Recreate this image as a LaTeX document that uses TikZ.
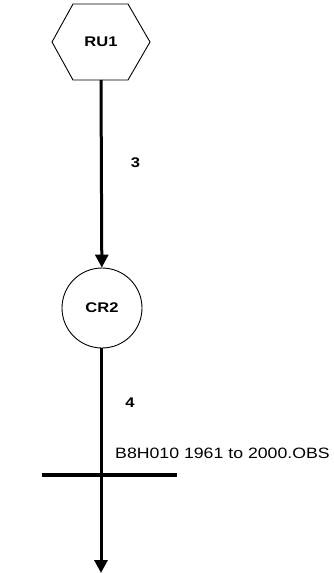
\documentclass[tikz,border=0pt]{standalone}
\usepackage{fontspec}
\setmainfont{Liberation Sans}
\newfontfamily\widefont[FakeStretch=1.18]{Liberation Sans}
\usetikzlibrary{arrows.meta}
\definecolor{netline}{RGB}{0,0,0}

\begin{document}
\begin{tikzpicture}[
  x=1pt, y=-1pt,
  >={Triangle[length=13pt,width=13pt]},
  unit/.style={font=\widefont\fontsize{14}{16}\selectfont\bfseries, inner sep=0pt},
  rch/.style={->, draw=netline, line width=3pt},
  num/.style={font=\widefont\fontsize{14}{16}\selectfont\bfseries, inner sep=0pt},
  gauge/.style={font=\widefont\fontsize{15}{17}\selectfont, inner sep=0pt, anchor=west}
]
\useasboundingbox (0,0) rectangle (333,573);

% nodes
\draw[netline, line width=0.9pt] (52,42) -- (73,4) -- (128,4) -- (150,42)
  -- (128,80) -- (73,80) -- cycle;
\node[unit] (ru1) at (101,42) {RU1};
\coordinate (ru1s) at (101,80);
\node[draw=netline, line width=0.9pt, circle, minimum size=80pt, unit] (cr2) at (102,308) {CR2};
\coordinate (cr2s) at (101,348);

% outlet and gauge
\coordinate (gx) at (101,475);
\coordinate (gw) at (42,475);
\coordinate (ge) at (177,475);
\coordinate (out) at (101,573);

% reaches
\draw[rch] (ru1s) -- node[num, pos=0.44, xshift=34pt] {3} (cr2);
\draw[rch] (cr2s) -- node[num, pos=0.43, xshift=29pt] {4} (gx) -- (out);
\draw[draw=netline, line width=3.4pt] (gw) -- (ge);
\node[gauge] (obs) at (115,453) {B8H010 1961 to 2000.OBS};
\end{tikzpicture}
\end{document}
